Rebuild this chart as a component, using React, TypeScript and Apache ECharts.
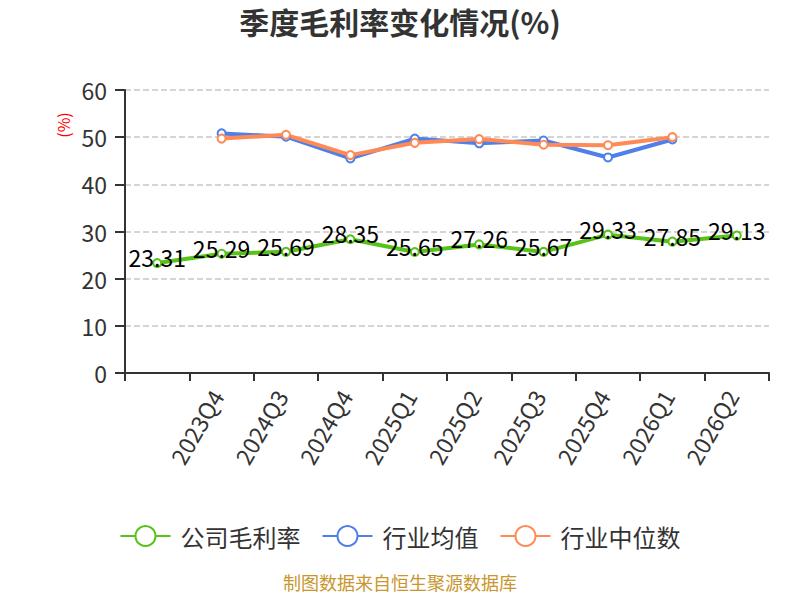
import React, { useEffect, useRef } from "react";
import * as echarts from "echarts";

const categories = ["2023Q3", "2023Q4", "2024Q3", "2024Q4", "2025Q1", "2025Q2", "2025Q3", "2025Q4", "2026Q1", "2026Q2"];
const companyMargin = [23.31, 25.29, 25.69, 28.35, 25.65, 27.26, 25.67, 29.33, 27.85, 29.13];
const industryAvg = [null, 50.8, 50.1, 45.5, 49.7, 48.7, 49.3, 45.7, 49.5, null];
const industryMedian = [null, 49.7, 50.5, 46.2, 48.8, 49.6, 48.4, 48.3, 50.0, null];

const FONT = '"Noto Sans CJK SC", "Noto Sans", sans-serif';

export default function App() {
  const ref = useRef<HTMLDivElement>(null);
  useEffect(() => {
    if (!ref.current) return;
    const chart = echarts.init(ref.current, undefined, { renderer: "svg" });
    chart.setOption({
      animation: false,
      textStyle: { fontFamily: FONT },
      title: {
        text: "季度毛利率变化情况(%)",
        left: "center",
        top: 6,
        padding: 0,
        textStyle: { fontSize: 30, fontWeight: "bold", color: "#333", fontFamily: FONT },
      },
      legend: {
        top: 519,
        left: "center",
        itemWidth: 50,
        itemHeight: 25,
        itemGap: 21,
        textStyle: { fontSize: 24, color: "#333", fontFamily: FONT, padding: [0, 0, 0, 5] },
        data: ["公司毛利率", "行业均值", "行业中位数"],
      },
      graphic: [
        {
          type: "text",
          left: "center",
          top: 573,
          style: { text: "制图数据来自恒生聚源数据库", fill: "#c8962d", fontSize: 18, fontFamily: FONT },
        },
        {
          type: "text",
          x: 63,
          y: 125,
          rotation: Math.PI / 2,
          style: {
            text: "(%)",
            fill: "#ff0000",
            fontSize: 16,
            fontFamily: FONT,
            align: "center",
            verticalAlign: "middle",
          },
        },
      ],
      grid: { left: 125, right: 31, top: 90, bottom: 227 },
      xAxis: {
        type: "category",
        data: categories,
        boundaryGap: true,
        axisLine: { show: true, lineStyle: { color: "#333", width: 2 } },
        axisTick: { show: true, interval: 0, length: 8, lineStyle: { color: "#333", width: 2 } },
        axisLabel: {
          rotate: 60,
          fontSize: 23,
          color: "#333",
          margin: 10,
          padding: [0, 10, 0, 0],
          interval: (index: number) => index > 0,
          fontFamily: FONT,
        },
      },
      yAxis: {
        type: "value",
        min: 0,
        max: 60,
        interval: 10,
        axisLine: { show: true, lineStyle: { color: "#333", width: 2 } },
        axisTick: { show: true, length: 10, lineStyle: { color: "#333", width: 2 } },
        axisLabel: { fontSize: 23, color: "#333", margin: 18, fontFamily: FONT },
        splitLine: { lineStyle: { type: "dashed", color: "#c8c8c8", width: 1.5 } },
      },
      series: [
        {
          name: "公司毛利率",
          type: "line",
          data: companyMargin,
          symbol: "emptyCircle",
          symbolSize: 8,
          lineStyle: { color: "#57c21a", width: 4 },
          itemStyle: { color: "#57c21a", borderWidth: 2 },
          label: {
            show: true,
            position: "inside",
            offset: [0, -6],
            fontSize: 23,
            color: "#000",
            fontFamily: FONT,
          },
          z: 3,
        },
        {
          name: "行业均值",
          type: "line",
          data: industryAvg,
          symbol: "emptyCircle",
          symbolSize: 8,
          lineStyle: { color: "#4f7fe8", width: 4 },
          itemStyle: { color: "#4f7fe8", borderWidth: 2 },
        },
        {
          name: "行业中位数",
          type: "line",
          data: industryMedian,
          symbol: "emptyCircle",
          symbolSize: 8,
          lineStyle: { color: "#ff8a55", width: 4 },
          itemStyle: { color: "#ff8a55", borderWidth: 2 },
        },
      ],
    });
    return () => chart.dispose();
  }, []);
  return <div ref={ref} style={{ width: 800, height: 600, margin: -8 }} />;
}
